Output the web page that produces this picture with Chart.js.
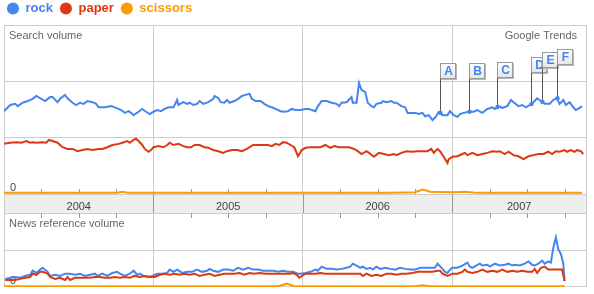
<!DOCTYPE html>
<html>
<head>
<meta charset="utf-8">
<script src="https://cdn.jsdelivr.net/npm/chart.js@4/dist/chart.umd.min.js"></script>
<style>
html, body { margin:0; padding:0; background:#fff; overflow:hidden; }
#wrapTop { position:absolute; left:0; top:-5px; width:594px; height:218px; }
#wrapBot { position:absolute; left:0; top:213px; width:594px; height:74px; }
</style>
</head>
<body>
<div id="wrapTop"><canvas id="cTop"></canvas></div>
<div id="wrapBot"><canvas id="cBot"></canvas></div>
<script>
var X_MAX = 46.72;
var yearLabels = ["2004", "2005", "2006", "2007"];

// search volume
var rockT = [0,0.5,0.9,1.1,1.5,1.9,2.3,2.6,2.9,3.3,
  3.7,3.9,4.3,4.5,4.9,5.1,5.5,5.8,6.1,6.4,
  6.7,7.1,7.4,7.6,8.1,8.6,9.0,9.4,9.7,10.0,
  10.2,10.4,10.8,11.1,11.4,11.7,12.0,12.3,12.6,12.9,
  13.2,13.6,13.7,13.9,14.0,14.4,14.7,14.9,15.2,15.5,
  15.7,16.0,16.4,16.8,16.9,17.2,17.4,17.7,17.9,18.1,
  18.5,18.8,19.1,19.4,19.7,19.9,20.2,20.6,20.9,21.2,
  21.5,21.8,22.2,22.5,22.8,23.1,23.4,23.8,24.2,24.5,
  24.7,25.0,25.2,25.5,25.9,26.3,26.7,26.9,27.1,27.5,
  27.6,27.9,28.0,28.3,28.5,28.7,29.0,29.2,29.5,29.7,
  29.9,30.3,30.4,30.7,31.1,31.3,31.5,31.9,32.2,32.4,
  32.8,33.0,33.3,33.6,33.8,34.1,34.4,34.7,34.9,35.2,
  35.6,35.8,36.1,36.4,36.6,36.9,37.3,37.7,38.0,38.4,
  38.8,39.2,39.4,39.7,40.0,40.4,40.7,40.9,41.3,41.6,
  41.9,42.2,42.5,42.8,43.1,43.4,43.8,44.1,44.4,44.6,
  44.9,45.1,45.4,45.7,45.9,46.2,46.4];
var rockV = [1.47,1.58,1.60,1.56,1.62,1.65,1.69,1.74,1.70,1.65,
  1.72,1.72,1.63,1.69,1.76,1.70,1.62,1.58,1.62,1.60,
  1.65,1.63,1.60,1.54,1.54,1.56,1.53,1.49,1.44,1.47,
  1.44,1.40,1.46,1.51,1.46,1.42,1.46,1.49,1.47,1.51,
  1.54,1.54,1.58,1.67,1.58,1.63,1.60,1.62,1.58,1.60,
  1.65,1.60,1.63,1.69,1.74,1.70,1.63,1.62,1.67,1.62,
  1.65,1.69,1.74,1.76,1.78,1.69,1.65,1.65,1.60,1.56,
  1.54,1.51,1.47,1.46,1.47,1.51,1.49,1.49,1.51,1.51,
  1.49,1.47,1.56,1.65,1.65,1.62,1.60,1.56,1.62,1.63,
  1.65,1.72,1.62,1.62,1.97,1.85,1.81,1.62,1.56,1.54,
  1.60,1.62,1.65,1.63,1.65,1.62,1.62,1.56,1.54,1.44,
  1.44,1.44,1.42,1.44,1.38,1.40,1.31,1.38,1.46,1.40,
  1.40,1.47,1.40,1.37,1.42,1.44,1.46,1.46,1.49,1.44,
  1.51,1.54,1.51,1.56,1.53,1.56,1.67,1.63,1.56,1.58,
  1.54,1.58,1.63,1.70,1.65,1.60,1.60,1.67,1.70,1.60,
  1.67,1.58,1.63,1.54,1.49,1.53,1.56];

var paperT = [0,0.5,1.0,1.4,1.8,2.1,2.3,2.6,3.1,3.4,
  3.6,3.9,4.3,4.7,5.1,5.5,5.9,6.3,6.7,7.1,
  7.6,7.9,8.3,8.7,9.2,9.5,9.9,10.1,10.4,10.6,
  10.8,11.1,11.3,11.6,11.8,12.0,12.4,12.8,13.1,13.3,
  13.6,14.0,14.4,14.7,15.0,15.3,15.7,16.1,16.4,16.8,
  17.2,17.6,17.9,18.3,18.7,19.1,19.5,20.0,20.4,20.8,
  21.2,21.5,21.8,22.1,22.4,22.7,23.0,23.3,23.6,23.9,
  24.2,24.6,25.0,25.4,25.8,26.2,26.5,26.9,27.3,27.7,
  28.1,28.4,28.7,29.1,29.3,29.7,30.1,30.5,30.9,31.3,
  31.5,31.9,32.3,32.8,33.2,33.6,34.0,34.3,34.5,34.8,
  35.0,35.3,35.6,35.7,36.0,36.4,36.8,37.0,37.2,37.6,
  38.0,38.4,38.8,39.2,39.6,39.8,40.2,40.5,40.9,41.3,
  41.7,42.1,42.5,42.9,43.3,43.7,44.0,44.3,44.6,45.0,
  45.2,45.5,45.8,46.0,46.3,46.5];
var paperV = [.89,.91,.92,.91,.94,.91,.92,.91,.92,.91,
  .96,.94,.91,.83,.80,.80,.76,.78,.80,.78,
  .80,.80,.83,.87,.89,.91,.94,.91,.96,.98,
  .94,.87,.80,.75,.78,.83,.85,.83,.87,.91,
  .87,.89,.85,.83,.83,.87,.87,.83,.82,.78,
  .76,.73,.76,.78,.78,.76,.80,.87,.87,.87,
  .87,.85,.89,.87,.92,.91,.87,.83,.67,.78,
  .82,.83,.83,.83,.87,.82,.85,.83,.83,.83,
  .80,.76,.71,.76,.73,.66,.73,.71,.69,.71,
  .69,.73,.76,.75,.76,.76,.76,.80,.73,.80,
  .76,.66,.55,.62,.66,.67,.71,.73,.69,.73,
  .69,.71,.73,.76,.75,.76,.71,.75,.69,.67,
  .62,.67,.69,.71,.71,.75,.71,.76,.75,.78,
  .75,.78,.75,.78,.76,.71];

var scissorsT = [0,3,6,9,9.5,10,13,16,19,22,25,28,31,33,33.6,34.2,36,37,38,41,44,46.4];
var scissorsV = [.02,.02,.02,.02,.04,.02,.02,.02,.02,.02,.02,.02,.02,.03,.08,.04,.03,.04,.02,.02,.02,.02];

// news reference volume
var newsRockT = [0.1,0.5,0.9,1.3,1.7,2.1,2.3,2.6,2.9,3.1,
  3.5,3.7,4.1,4.5,4.9,5.3,5.7,6.1,6.5,6.9,
  7.3,7.5,7.9,8.3,8.7,9.1,9.3,9.7,10.1,10.4,
  10.7,10.9,11.2,11.5,11.9,12.3,12.7,13.1,13.3,13.6,
  13.9,14.3,14.7,15.1,15.5,15.9,16.3,16.5,16.8,17.2,
  17.6,18.0,18.4,18.8,19.2,19.6,20.0,20.4,20.8,21.2,
  21.6,22.0,22.4,22.8,23.2,23.6,23.8,24.2,24.6,25.0,
  25.2,25.5,25.9,26.3,26.7,27.1,27.5,27.8,28.0,28.3,
  28.6,28.8,29.1,29.4,29.6,29.9,30.2,30.6,31.0,31.4,
  31.8,32.2,32.6,33.0,33.4,33.8,34.2,34.6,34.8,35.2,
  35.4,35.6,35.8,36.0,36.4,36.8,37.2,37.4,37.6,38.0,
  38.2,38.4,38.8,39.0,39.4,39.8,40.2,40.5,40.8,41.0,
  41.4,41.8,42.1,42.4,42.6,42.9,43.2,43.4,43.7,43.9,
  44.1,44.3,44.5,44.7,44.9,45.0];
var newsRockV = [.22,.25,.27,.25,.30,.33,.44,.38,.47,.52,
  .41,.30,.33,.30,.36,.36,.33,.36,.30,.33,
  .36,.30,.36,.30,.38,.41,.36,.30,.36,.44,
  .33,.36,.30,.27,.30,.36,.36,.38,.47,.41,
  .47,.38,.41,.41,.47,.41,.44,.49,.44,.41,
  .47,.47,.44,.52,.47,.52,.47,.47,.44,.44,
  .44,.41,.44,.41,.41,.36,.36,.38,.41,.47,
  .44,.55,.49,.49,.47,.49,.52,.55,.63,.58,
  .52,.55,.49,.52,.47,.55,.49,.52,.49,.47,
  .52,.49,.47,.47,.52,.52,.52,.52,.63,.49,
  .41,.38,.47,.52,.52,.58,.66,.55,.52,.60,
  .63,.58,.60,.55,.63,.58,.60,.63,.58,.60,
  .58,.63,.69,.60,.58,.63,.71,.63,.69,.66,
  1.07,1.34,1.01,.90,.63,.16];

var newsPaperT = [0.1,0.5,0.9,1.3,1.7,2.1,2.3,2.6,2.9,3.1,
  3.5,3.7,4.1,4.5,4.9,5.1,5.3,5.7,6.1,6.5,
  6.9,7.3,7.7,8.1,8.5,8.9,9.3,9.7,10.1,10.5,
  10.9,11.3,11.7,12.1,12.5,12.9,13.3,13.7,14.1,14.5,
  14.9,15.3,15.7,16.1,16.5,16.9,17.3,17.7,18.1,18.5,
  18.9,19.3,19.7,20.1,20.5,21.0,21.4,21.8,22.2,22.6,
  23.0,23.2,23.5,23.7,24.2,24.6,25.0,25.4,25.8,26.2,
  26.6,27.0,27.4,27.8,28.2,28.6,28.8,29.1,29.5,29.9,
  30.3,30.7,31.1,31.5,31.9,32.3,32.8,33.2,33.6,34.0,
  34.4,34.8,35.0,35.2,35.6,36.0,36.4,36.8,37.0,37.2,
  37.6,38.0,38.4,38.8,39.2,39.6,40.0,40.4,40.8,41.2,
  41.6,42.0,42.4,42.6,42.8,43.1,43.4,43.7,44.0,44.2,
  44.5,44.8,45.0];
var newsPaperV = [.19,.19,.19,.22,.25,.27,.36,.33,.41,.41,
  .36,.27,.22,.25,.19,.27,.19,.25,.25,.25,
  .25,.27,.27,.25,.25,.27,.25,.27,.25,.30,
  .27,.30,.27,.27,.33,.36,.33,.36,.33,.36,
  .33,.36,.30,.33,.36,.30,.33,.36,.36,.36,
  .38,.33,.38,.36,.38,.36,.36,.36,.36,.36,
  .36,.38,.33,.25,.36,.36,.36,.38,.36,.36,
  .36,.36,.36,.36,.36,.36,.30,.36,.30,.33,
  .30,.36,.36,.33,.36,.36,.38,.41,.41,.41,
  .41,.44,.44,.36,.30,.36,.36,.41,.47,.41,
  .38,.41,.47,.41,.44,.41,.47,.41,.44,.41,
  .44,.41,.41,.49,.38,.52,.55,.47,.47,.47,
  .47,.47,.16];

var newsScissorsT = [0,6,12,18,22,22.7,23.3,28,33,33.6,34.2,40,45];
var newsScissorsV = [.02,.02,.02,.02,.02,.09,.02,.02,.02,.05,.02,.02,.02];

// news event flags on the rock line
var annLetters = ["A", "B", "C", "D", "E", "F"];
var annT       = [35.0, 37.3, 39.6, 42.3, 43.2, 44.4];

var BLUE = "#4684ee", RED = "#dc3912", ORANGE = "#ff9900";
var GRID = "#cccccc";

Chart.defaults.font.family = "'Liberation Sans', Arial, sans-serif";
Chart.defaults.animation = false;

function pts(t, v) {
  return t.map(function(x, i) { return { x: x, y: v[i] }; });
}

function line(lbl, t, v, col, ord) {
  return { label: lbl, data: pts(t, v), borderColor: col, backgroundColor: col,
           borderWidth: 2, pointRadius: 0, tension: 0, order: ord };
}

// label sits in the middle of the visible part of each year
function labelPos() {
  return yearLabels.map(function(y, i) {
    return (i * 12 + Math.min(i * 12 + 12, X_MAX)) / 2;
  });
}

// quarter ticks, plus the year label spots (skip ones that already exist,
// otherwise the label gets drawn twice and looks bold)
function quarterTicks(withLabels) {
  return function(scale) {
    var vals = [];
    for (var m = 0; m <= X_MAX; m += 3) vals.push(m);
    if (withLabels) labelPos().forEach(function(p) {
      if (vals.indexOf(p) < 0) vals.push(p);
    });
    vals.sort(function(a, b) { return a - b; });
    scale.ticks = vals.map(function(v) { return { value: v }; });
  };
}

function yearGrid(c) {
  return (c.tick && c.tick.value % 12 === 0) ? GRID : "rgba(0,0,0,0)";
}

// chart.js reserves half a label above/below the axes, we don't want that
function noPadX(s) { s.paddingLeft = 0; s.paddingRight = 0; }
function noPadY(s) { s.width = 4; s.paddingTop = 0; s.paddingBottom = 0; }

function rockAt(m) {
  for (var i = 1; i < rockT.length; i++) {
    if (rockT[i] >= m) {
      var f = (m - rockT[i-1]) / (rockT[i] - rockT[i-1]);
      return rockV[i-1] + f * (rockV[i] - rockV[i-1]);
    }
  }
  return rockV[rockV.length - 1];
}

function crisp(v) { return Math.round(v) + 0.5; }

// frame, year band, quarter ticks, panel titles
var panelDecor = {
  id: "panelDecor",
  beforeDraw: function(chart, args, o) {
    if (!o.band) return;
    var a = chart.chartArea, ctx = chart.ctx;
    ctx.save();
    ctx.fillStyle = "#eeeeee";
    ctx.fillRect(a.left, a.bottom, a.right - a.left, o.band);
    ctx.restore();
  },
  beforeDatasetsDraw: function(chart, args, o) {
    var a = chart.chartArea, ctx = chart.ctx, xs = chart.scales.x;
    ctx.save();
    ctx.lineWidth = 1;
    ctx.strokeStyle = GRID;
    ctx.beginPath();
    ctx.moveTo(crisp(a.left), a.bottom + (o.band || 0));
    ctx.lineTo(crisp(a.left), crisp(a.top));
    ctx.lineTo(crisp(a.right), crisp(a.top));
    ctx.lineTo(crisp(a.right), a.bottom + (o.band || 0));
    if (!o.band) {
      ctx.moveTo(crisp(a.left), crisp(a.bottom - 1));
      ctx.lineTo(crisp(a.right), crisp(a.bottom - 1));
    }
    ctx.stroke();

    ctx.strokeStyle = "#999999";
    ctx.beginPath();
    for (var m = 3; m <= X_MAX; m += 3) {
      var x = crisp(xs.getPixelForValue(m));
      if (m % 12 === 0) {
        if (o.band) { ctx.moveTo(x, a.bottom); ctx.lineTo(x, a.bottom + o.band); }
        continue;
      }
      if (o.tickSide === "bottom") { ctx.moveTo(x, a.bottom - 5); ctx.lineTo(x, a.bottom); }
      else { ctx.moveTo(x, a.top); ctx.lineTo(x, a.top + 5); }
    }
    ctx.stroke();

    ctx.fillStyle = "#666666";
    ctx.font = "11px 'Liberation Sans', Arial, sans-serif";
    ctx.textBaseline = "middle";
    ctx.textAlign = "left";
    ctx.fillText(o.title, a.left + 5, a.top + 11);
    if (o.brand) {
      ctx.textAlign = "right";
      ctx.fillText(o.brand, a.right - 9, a.top + 11);
    }
    ctx.restore();
  }
};

// the little lettered flags A..F
var flags = {
  id: "flags",
  afterDatasetsDraw: function(chart, args, o) {
    var a = chart.chartArea, ctx = chart.ctx;
    var xs = chart.scales.x, ys = chart.scales.y;
    ctx.save();
    annLetters.forEach(function(letter, i) {
      var x = Math.round(xs.getPixelForValue(annT[i]));
      var yEnd = ys.getPixelForValue(rockAt(annT[i]));
      var top = Math.round(a.top + o.tops[i]);
      var w = 15, h = 15;

      ctx.strokeStyle = "#555555";
      ctx.lineWidth = 1;
      ctx.beginPath();
      ctx.moveTo(x + 0.5, top + h);
      ctx.lineTo(x + 0.5, yEnd);
      ctx.stroke();

      ctx.fillStyle = BLUE;
      ctx.beginPath();
      ctx.arc(x + 0.5, yEnd, 2.2, 0, Math.PI * 2);
      ctx.fill();

      ctx.fillStyle = "#b8b8b8";
      ctx.fillRect(x + 1, top + 1, w + 1, h + 1);
      var g = ctx.createLinearGradient(0, top, 0, top + h);
      g.addColorStop(0, "#ffffff");
      g.addColorStop(1, "#e6e6e6");
      ctx.fillStyle = g;
      ctx.fillRect(x, top, w, h);
      ctx.strokeStyle = "#9a9a9a";
      ctx.strokeRect(x + 0.5, top + 0.5, w, h);

      ctx.fillStyle = BLUE;
      ctx.font = "bold 12px 'Liberation Sans', Arial, sans-serif";
      ctx.textAlign = "center";
      ctx.textBaseline = "middle";
      ctx.fillText(letter, x + w / 2 + 1, top + h / 2 + 1);
    });
    ctx.restore();
  }
};

function zeroOnly(v) { return v === 0 ? "0" : ""; }

var topChart = new Chart(document.getElementById("cTop"), {
  type: "line",
  data: { datasets: [
    line("rock", rockT, rockV, BLUE, 0),
    line("paper", paperT, paperV, RED, 1),
    line("scissors", scissorsT, scissorsV, ORANGE, 2)
  ]},
  plugins: [panelDecor, flags],
  options: {
    responsive: true,
    maintainAspectRatio: false,
    layout: { padding: { left: 0, right: 8, top: 0, bottom: 0 } },
    scales: {
      x: {
        type: "linear", min: 0, max: X_MAX,
        afterBuildTicks: quarterTicks(true),
        afterFit: function(s) { noPadX(s); s.height = 19; },
        ticks: {
          autoSkip: false, maxRotation: 0, padding: 6, color: "#444444",
          font: { size: 11 },
          callback: function(v) {
            var i = labelPos().indexOf(v);
            return i < 0 ? "" : yearLabels[i];
          }
        },
        grid: { color: yearGrid, drawTicks: false },
        border: { display: false }
      },
      y: {
        min: 0, max: 3,
        afterFit: noPadY,
        ticks: { stepSize: 1, mirror: true, padding: 6, labelOffset: -6,
                 color: "#444444", font: { size: 11 }, callback: zeroOnly },
        grid: { color: GRID, drawTicks: false },
        border: { display: false }
      }
    },
    plugins: {
      legend: {
        display: true, position: "top", align: "start",
        labels: {
          usePointStyle: true, boxWidth: 12, boxHeight: 8.5, padding: 7,
          font: { size: 13, weight: "bold" },
          generateLabels: function(chart) {
            return chart.data.datasets.map(function(ds, i) {
              return { text: ds.label, fillStyle: ds.borderColor, strokeStyle: ds.borderColor,
                       fontColor: ds.borderColor, lineWidth: 0, pointStyle: "circle",
                       hidden: false, datasetIndex: i };
            });
          }
        }
      },
      tooltip: { enabled: false },
      panelDecor: { band: 19, tickSide: "bottom", title: "Search volume", brand: "Google Trends" },
      flags: { tops: [38, 38, 37, 32, 27, 24] }
    }
  }
});

var botChart = new Chart(document.getElementById("cBot"), {
  type: "line",
  data: { datasets: [
    line("rock", newsRockT, newsRockV, BLUE, 1),
    line("paper", newsPaperT, newsPaperV, RED, 0),
    line("scissors", newsScissorsT, newsScissorsV, ORANGE, 2)
  ]},
  plugins: [panelDecor],
  options: {
    responsive: true,
    maintainAspectRatio: false,
    layout: { padding: { left: 0, right: 8, top: 0, bottom: 0 } },
    scales: {
      x: {
        type: "linear", min: 0, max: X_MAX,
        afterBuildTicks: quarterTicks(false),
        afterFit: function(s) { noPadX(s); s.height = 0; },
        ticks: { display: false },
        grid: { color: yearGrid, drawTicks: false },
        border: { display: false }
      },
      y: {
        min: 0, max: 2,
        afterFit: noPadY,
        ticks: { stepSize: 1, mirror: true, padding: 6, labelOffset: -6,
                 color: "#444444", font: { size: 11 }, callback: zeroOnly },
        grid: { color: GRID, drawTicks: false },
        border: { display: false }
      }
    },
    plugins: {
      legend: { display: false },
      tooltip: { enabled: false },
      panelDecor: { band: 0, tickSide: "top", title: "News reference volume" }
    }
  }
});
</script>
</body>
</html>
